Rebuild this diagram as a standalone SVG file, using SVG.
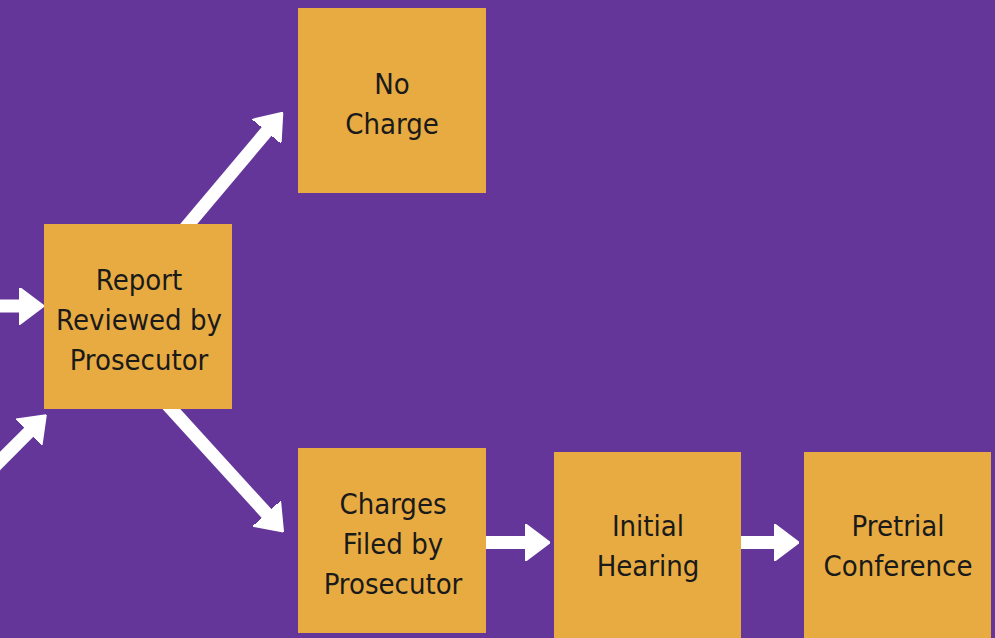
<svg xmlns="http://www.w3.org/2000/svg" width="995" height="638" viewBox="0 0 995 638">
<style>
.box{fill:#E8AB42}
.lbl{font-family:"DejaVu Sans Condensed","DejaVu Sans",sans-serif;font-stretch:condensed;font-size:29px;fill:#1a1a1a;text-anchor:middle}
.arr{stroke:#ffffff;stroke-width:13;fill:none;marker-end:url(#head)}
</style>
<defs>
<marker id="head" markerUnits="userSpaceOnUse" markerWidth="25" markerHeight="37" viewBox="0 0 24 36" refX="0.5" refY="18" orient="auto">
<path d="M0,0 L24,18 L0,36 z" fill="#ffffff" stroke="#ffffff" stroke-width="1.5" stroke-linejoin="round"/>
</marker>
</defs>
<rect width="995" height="638" fill="#643699"/>
<g id="connectors">
<line class="arr" x1="0" y1="306" x2="20" y2="306"/>
<line class="arr" x1="-20" y1="481" x2="29" y2="432"/>
<line class="arr" x1="182" y1="232" x2="267" y2="131"/>
<line class="arr" x1="165" y1="402" x2="267" y2="514"/>
<line class="arr" x1="480" y1="542.5" x2="526" y2="542.5"/>
<line class="arr" x1="735" y1="542.5" x2="775" y2="542.5"/>
</g>
<g id="no-charge">
<rect class="box" x="298" y="8" width="188" height="185"/>
<text class="lbl" x="392" y="94">No</text>
<text class="lbl" x="392" y="134">Charge</text>
</g>
<g id="report-reviewed">
<rect class="box" x="44" y="224" width="188" height="185"/>
<text class="lbl" x="139" y="290">Report</text>
<text class="lbl" x="139" y="330">Reviewed by</text>
<text class="lbl" x="139" y="370">Prosecutor</text>
</g>
<g id="charges-filed">
<rect class="box" x="298" y="448" width="188" height="185"/>
<text class="lbl" x="393" y="514">Charges</text>
<text class="lbl" x="393" y="554">Filed by</text>
<text class="lbl" x="393" y="594">Prosecutor</text>
</g>
<g id="initial-hearing">
<rect class="box" x="554" y="452" width="187" height="186"/>
<text class="lbl" x="648" y="536">Initial</text>
<text class="lbl" x="648" y="576">Hearing</text>
</g>
<g id="pretrial-conference">
<rect class="box" x="804" y="452" width="187" height="186"/>
<text class="lbl" x="898" y="536">Pretrial</text>
<text class="lbl" x="898" y="576">Conference</text>
</g>
</svg>
